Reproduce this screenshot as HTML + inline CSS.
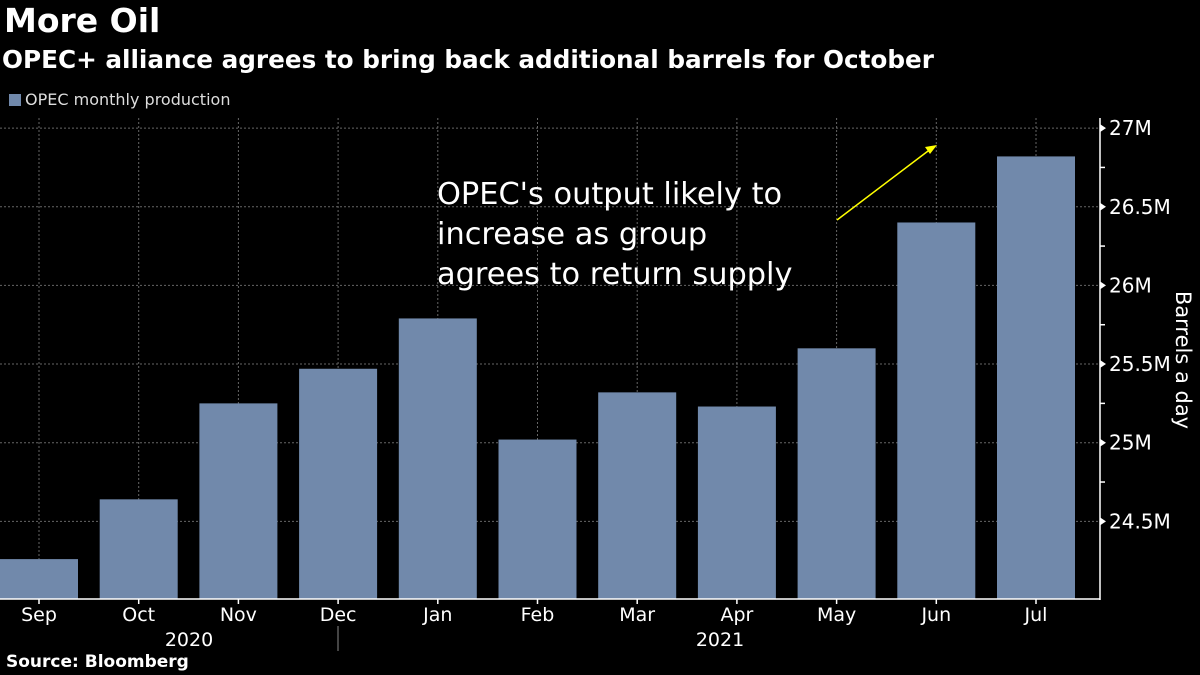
<!DOCTYPE html>
<html><head><meta charset="utf-8"><style>
body{margin:0;background:#000;width:1200px;height:675px;overflow:hidden;font-family:"DejaVu Sans","Liberation Sans",sans-serif;color:#fff}
#title{position:absolute;left:4px;top:1px;font-size:33px;font-weight:bold}
#sub{position:absolute;left:2px;top:45px;font-size:24.7px;font-weight:bold}
#legend{position:absolute;left:9px;top:90px;font-size:16px;color:#ddd}
#legend span.sw{display:inline-block;width:12px;height:12px;background:#7189ab;margin-right:4px;vertical-align:-1px}
#src{position:absolute;left:6px;top:652px;font-size:17px;font-weight:bold}
svg{position:absolute;left:0;top:0}
</style></head><body>
<svg id="chart" width="1200" height="675"></svg>
<div id="title">More Oil</div>
<div id="sub">OPEC+ alliance agrees to bring back additional barrels for October</div>
<div id="legend"><span class="sw"></span>OPEC monthly production</div>
<div id="src">Source: Bloomberg</div>
<script>
const categories=["Sep","Oct","Nov","Dec","Jan","Feb","Mar","Apr","May","Jun","Jul"];
const values=[24.26,24.64,25.25,25.47,25.79,25.02,25.32,25.23,25.60,26.40,26.82];
const tickValues=[24.5,25,25.5,26,26.5,27];
const tickLabels=["24.5M","25M","25.5M","26M","26.5M","27M"];
const yearLabels=["2020","2021"];
const NS="http://www.w3.org/2000/svg";
const svg=document.getElementById('chart');
const plotTop=118,plotBottom=599,axisX=1100;
const yMin=24.0,yMax=27.07;
function y(v){return 600-(v-yMin)*157.3;}
function x(i){return 39+i*99.7;}
function mk(t,a){const e=document.createElementNS(NS,t);for(const k in a)e.setAttribute(k,a[k]);svg.appendChild(e);return e;}
categories.forEach((c,i)=>{
 const g=mk('line',{x1:x(i),x2:x(i),y1:plotTop,y2:plotBottom,stroke:'#666','stroke-dasharray':'2,2','stroke-width':1});
 
 
});
tickValues.forEach((v,i)=>{
 const g=mk('line',{x1:0,x2:axisX,y1:y(v),y2:y(v),stroke:'#666','stroke-dasharray':'2,2','stroke-width':1});
 
 
 const tk=mk('path',{d:`M${axisX} ${y(v)-4}L${axisX+6} ${y(v)}L${axisX} ${y(v)+4}Z`,fill:'#fff'});
 
 
 const t=mk('text',{x:axisX+9,y:y(v)+7,fill:'#fff','font-size':20});
 t.textContent=tickLabels[i];
 
 
 const mv=v+0.25;
 if(mv<yMax){const m=mk('line',{x1:axisX,x2:axisX+5,y1:y(mv),y2:y(mv),stroke:'#fff','stroke-width':1.5});
 
 }
});
categories.forEach((c,i)=>{
 const b=mk('rect',{x:x(i)-39,y:y(values[i]),width:78,height:plotBottom-y(values[i]),fill:'#7189ab'});
 
 
 const tk=mk('line',{x1:x(i),x2:x(i),y1:plotBottom,y2:plotBottom+5,stroke:'#fff','stroke-width':1.5});
 
 
 const t=mk('text',{x:x(i),y:621,fill:'#fff','font-size':19,'text-anchor':'middle'});
 t.textContent=c;
 
 
});
const ax=mk('line',{x1:axisX,x2:axisX,y1:plotTop,y2:plotBottom+1,stroke:'#fff','stroke-width':1.5});


const bx=mk('line',{x1:0,x2:axisX,y1:plotBottom,y2:plotBottom,stroke:'#fff','stroke-width':1.5});


const sep=mk('line',{x1:338,x2:338,y1:626,y2:651,stroke:'#888','stroke-width':1});


[[189,yearLabels[0]],[720,yearLabels[1]]].forEach(([px,l])=>{
 const t=mk('text',{x:px,y:646,fill:'#fff','font-size':19,'text-anchor':'middle'});
 t.textContent=l;
 
 
});
const yt=mk('text',{x:1176,y:360,fill:'#fff','font-size':21,'text-anchor':'middle',transform:'rotate(90 1176 360)'});
yt.textContent='Barrels a day';


['OPEC\'s output likely to','increase as group','agrees to return supply'].forEach((l,i)=>{
 const t=mk('text',{x:437,y:204+i*40,fill:'#fff','font-size':30.4});
 t.textContent=l;
 
 
});
const ar=mk('line',{x1:837,y1:220,x2:932,y2:148,stroke:'#ffff00','stroke-width':1.5});


const ah=mk('path',{d:'M937 145L925 147L930 154Z',fill:'#ffff00'});


</script>
</body></html>
